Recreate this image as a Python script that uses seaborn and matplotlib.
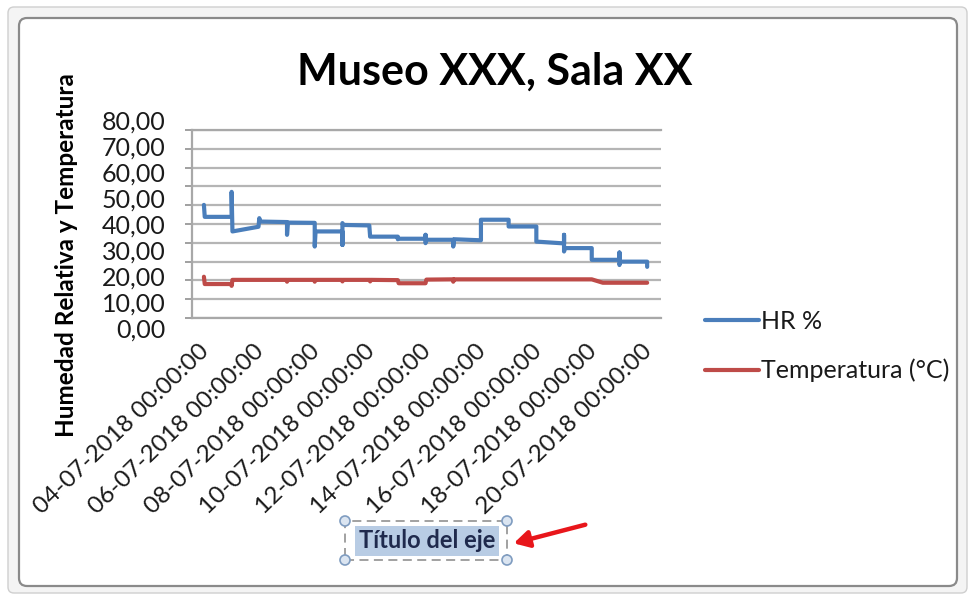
import numpy as np
import pandas as pd
import matplotlib
matplotlib.use("Agg")
import matplotlib.pyplot as plt
import seaborn as sns
from matplotlib.patches import FancyBboxPatch, Rectangle, Circle, FancyArrowPatch
from matplotlib.transforms import IdentityTransform, ScaledTranslation

# ---------------- data ----------------
title = "Museo XXX, Sala XX"
y_title = "Humedad Relativa y Temperatura"
x_title = "Título del eje"
series_names = ["HR %", "Temperatura (°C)"]

tick_days = [0, 2, 4, 6, 8, 10, 12, 14, 16]
tick_labels = ["04-07-2018 00:00:00", "06-07-2018 00:00:00", "08-07-2018 00:00:00",
               "10-07-2018 00:00:00", "12-07-2018 00:00:00", "14-07-2018 00:00:00",
               "16-07-2018 00:00:00", "18-07-2018 00:00:00", "20-07-2018 00:00:00"]
y_ticks = [0, 10, 20, 30, 40, 50, 60, 70, 80]

# days since 04-07-2018 00:00
hr_days = [0.0, 0.03, 1.0, 1.0, 1.03, 1.97, 2.0, 2.03, 3.0, 3.0, 3.03, 4.0, 4.0, 4.03,
           5.0, 5.0, 5.0, 5.03, 5.97, 6.0, 7.0, 7.0, 7.03, 8.0, 8.0, 8.0, 8.03,
           9.0, 9.0, 9.03, 10.0, 10.0, 11.0, 11.0, 12.0, 12.0, 13.0, 13.0, 13.0,
           13.03, 14.0, 14.0, 15.0, 15.0, 15.0, 15.03, 16.0, 16.0]
hr_vals = [47.4, 42.8, 42.8, 52.4, 37.2, 39.0, 42.3, 41.0, 40.8, 35.9, 40.6, 40.5, 31.4, 37.2,
           37.2, 32.0, 40.4, 39.7, 39.5, 35.2, 35.2, 34.2, 34.4, 34.4, 35.9, 32.7, 34.0,
           34.0, 31.4, 34.2, 33.8, 41.7, 41.7, 39.1, 39.1, 33.3, 32.6, 35.9, 29.5,
           30.8, 30.8, 26.3, 26.3, 29.1, 24.3, 25.6, 25.6, 23.6]

temp_days = [0.0, 0.03, 1.0, 1.0, 1.03, 3.0, 3.0, 3.03, 4.0, 4.0, 4.03, 5.0, 5.0, 5.03,
             6.0, 6.0, 6.03, 7.0, 7.03, 8.0, 8.03, 9.0, 9.0, 9.03, 14.0, 14.4, 16.0]
temp_vals = [19.8, 17.0, 17.0, 16.3, 18.6, 18.6, 17.9, 18.6, 18.6, 17.9, 18.6, 18.6, 18.0, 18.6,
             18.6, 18.0, 18.6, 18.5, 17.3, 17.3, 18.7, 18.8, 17.9, 18.8, 18.8, 17.5, 17.5]

df = pd.concat([
    pd.DataFrame({"day": hr_days, "value": hr_vals, "serie": series_names[0]}),
    pd.DataFrame({"day": temp_days, "value": temp_vals, "serie": series_names[1]}),
], ignore_index=True)

# ---------------- style ----------------
sns.set_theme(style="white")
plt.rcParams["font.family"] = ["Lato", "DejaVu Sans"]

W, H = 975, 599
fig = plt.figure(figsize=(W / 100, H / 100), dpi=100)
fig.patch.set_facecolor("white")

def fx(px):
    return px / W

def fy(py):
    return 1 - py / H

# frame of the excel chart object
outer = FancyBboxPatch((8, H - 593), 959, 586, boxstyle="round,pad=0,rounding_size=6",
                       transform=IdentityTransform(), facecolor="#f4f4f4",
                       edgecolor="#cfcfcf", linewidth=1.0, zorder=-5)
inner = FancyBboxPatch((19, H - 586), 938, 568, boxstyle="round,pad=0,rounding_size=8",
                       transform=IdentityTransform(), facecolor="white",
                       edgecolor="#8a8a8a", linewidth=1.6, zorder=-4)
fig.patches.extend([outer, inner])

# plot area geometry (pixels)
box_l, box_r, box_t, box_b = 192, 661, 130, 318
lab_t, lab_b = 120, 328.3          # where 80 and 0 labels sit

left, width = fx(box_l), fx(box_r - box_l)
lab_ax = fig.add_axes([left, fy(lab_b), width, fy(lab_t) - fy(lab_b)])
lab_ax.set_ylim(0, 80)
lab_ax.set_yticks(y_ticks)
lab_ax.set_yticklabels([f"{v:.2f}".replace(".", ",") for v in y_ticks],
                       fontsize=18, color="#1a1a1a")
lab_ax.tick_params(axis="y", length=0, pad=19)
lab_ax.set_xticks([])
lab_ax.patch.set_visible(False)
for s in lab_ax.spines.values():
    s.set_visible(False)

ax = fig.add_axes([left, fy(box_b), width, fy(box_t) - fy(box_b)])
ax.patch.set_visible(False)
lab_h = lab_b - lab_t
ylo = 80 * (lab_b - box_b) / lab_h
yhi = 80 * (lab_b - box_t) / lab_h

palette = {series_names[0]: "#4a7ebb", series_names[1]: "#be4b48"}
sns.lineplot(data=df, x="day", y="value", hue="serie", palette=palette,
             estimator=None, sort=False, linewidth=3.0, legend=False, ax=ax)
for ln in ax.get_lines():
    ln.set_solid_capstyle("round")
    ln.set_solid_joinstyle("round")

ax.set_xlim(-0.43, 16.5)
ax.set_ylim(ylo, yhi)
ax.set_yticks(np.linspace(ylo, yhi, 11))
ax.set_yticklabels([])
ax.grid(axis="y", color="#b5b5b5", linewidth=1.6)
ax.grid(axis="x", visible=False)
ax.set_axisbelow(True)
ax.tick_params(axis="y", length=5, width=1.4, color="#a0a0a0", direction="out", left=True)
for k in ["top", "bottom", "left"]:
    ax.spines[k].set_visible(True)
    ax.spines[k].set_color("#a8a8a8")
    ax.spines[k].set_linewidth(1.6)
ax.spines["right"].set_visible(False)

ax.set_xticks(tick_days)
ax.set_xticklabels(tick_labels, rotation=44, ha="right", va="top", fontsize=17.5,
                   color="#1a1a1a")
ax.tick_params(axis="x", length=0, pad=16)
off = ScaledTranslation(0.09, 0, fig.dpi_scale_trans)
for lbl in ax.get_xticklabels():
    lbl.set_transform(lbl.get_transform() + off)
ax.set_xlabel("")
ax.set_ylabel("")

# titles
fig.text(fx(495), fy(72), title, ha="center", va="center", fontsize=31,
         fontweight="bold", color="black")
fig.text(fx(67), fy(255), y_title, rotation=90, ha="center", va="center",
         fontsize=17.5, fontweight="bold", color="black")

# legend
handles = ax.get_lines()[:2]
fig.legend(handles, series_names, loc="center left",
           bbox_to_anchor=(fx(705), fy(346)), bbox_transform=fig.transFigure,
           frameon=False, fontsize=18, handlelength=2.15, handletextpad=0.08,
           labelspacing=1.05, borderpad=0, borderaxespad=0, labelcolor="#1a1a1a")

# selected axis title placeholder
fig.patches.append(Rectangle((345, H - 560), 162, 39, transform=IdentityTransform(),
                             fill=False, edgecolor="#9a9a9a", linewidth=1.3,
                             linestyle=(0, (5, 3)), zorder=2))
fig.text(fx(427), fy(541), x_title, ha="center", va="center", fontsize=17,
         fontweight="bold", color="#1f2a4d",
         bbox=dict(boxstyle="square,pad=0.15", facecolor="#b8cce4", edgecolor="none"))
for (cx, cy) in [(345, 521), (507, 521), (345, 560), (507, 560)]:
    fig.patches.append(Circle((cx, H - cy), 5, transform=IdentityTransform(),
                              facecolor="#dbe5f1", edgecolor="#7f9cc0",
                              linewidth=1.2, zorder=3))

# red arrow
fig.patches.append(FancyArrowPatch(
    (588, H - 524), (511, H - 544), transform=IdentityTransform(),
    arrowstyle="-|>,head_length=9,head_width=5", color="#e8161b",
    linewidth=3.2, zorder=4))

fig.savefig("out.png", dpi=100)
